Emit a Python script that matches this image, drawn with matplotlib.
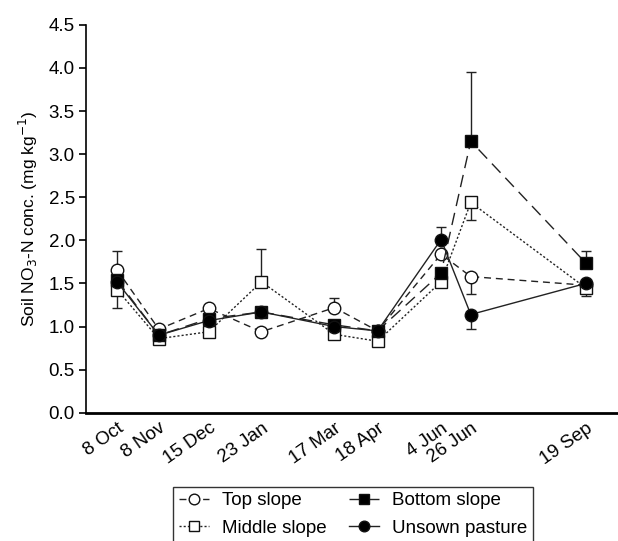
import numpy as np
from matplotlib import pyplot as plt

plt.rcParams['font.family'] = ['Liberation Sans', 'DejaVu Sans']

# sampling dates (x axis is proportional to time)
dates = ['2003-10-08', '2003-11-08', '2003-12-15', '2004-01-23', '2004-03-17',
         '2004-04-18', '2004-06-04', '2004-06-26', '2004-09-19']
date_labels = ['8 Oct', '8 Nov', '15 Dec', '23 Jan', '17 Mar', '18 Apr', '4 Jun', '26 Jun', '19 Sep']

top_slope = [1.66, 0.97, 1.21, 0.94, 1.22, 0.95, 1.84, 1.58, 1.48]
middle_slope = [1.43, 0.86, 0.94, 1.52, 0.91, 0.83, 1.52, 2.44, 1.45]
bottom_slope = [1.54, 0.90, 1.09, 1.17, 1.02, 0.95, 1.62, 3.15, 1.74]
unsown_pasture = [1.52, 0.90, 1.07, 1.17, 1.00, 0.95, 2.01, 1.14, 1.50]

# visible error bars (lower, upper)
top_err_lo = [0, 0, 0, 0, 0, 0, 0, 0.20, 0]
top_err_hi = [0.22, 0, 0, 0, 0.11, 0, 0, 0, 0]
middle_err_lo = [0.22, 0, 0, 0, 0, 0, 0, 0.20, 0]
middle_err_hi = [0, 0, 0, 0.38, 0, 0, 0, 0, 0]
bottom_err_lo = [0, 0, 0, 0, 0, 0, 0, 0, 0]
bottom_err_hi = [0, 0, 0, 0, 0, 0, 0, 0.80, 0.14]
unsown_err_lo = [0, 0, 0, 0, 0, 0, 0, 0.17, 0.15]
unsown_err_hi = [0, 0, 0, 0, 0, 0, 0.15, 0, 0]

d = np.array(dates, dtype='datetime64[D]')
x = (d - d[0]).astype(int)

fig = plt.figure(figsize=(6.18, 5.41), dpi=100)
ax = fig.add_axes([0.139, 0.237, 0.861, 0.717])

series = [
    ('Top slope', top_slope, top_err_lo, top_err_hi, 'o', 'white', (0, (5, 3.5))),
    ('Middle slope', middle_slope, middle_err_lo, middle_err_hi, 's', 'white', (0, (1.5, 1.5))),
    ('Bottom slope', bottom_slope, bottom_err_lo, bottom_err_hi, 's', 'black', (0, (9, 5))),
    ('Unsown pasture', unsown_pasture, unsown_err_lo, unsown_err_hi, 'o', 'black', '-'),
]

handles = []
for name, y, lo, hi, mk, fc, ls in series:
    y = np.array(y)
    lo = np.array(lo)
    hi = np.array(hi)
    idx = (lo > 0) | (hi > 0)
    ax.errorbar(x[idx], y[idx], yerr=[lo[idx], hi[idx]], fmt='none', ecolor='#222222',
                elinewidth=1, capsize=3.5, capthick=1, zorder=2)
    h, = ax.plot(x, y, color='#222222', linestyle=ls, linewidth=1, marker=mk,
                 markersize=9, markerfacecolor=fc, markeredgecolor='#111111',
                 markeredgewidth=1, label=name, zorder=3)
    handles.append(h)

ax.set_xlim(-23, x[-1] + 24)
ax.set_ylim(0, 4.5)
ax.set_yticks(np.arange(0, 4.51, 0.5))
ax.set_yticklabels(['%.1f' % v for v in np.arange(0, 4.51, 0.5)])
ax.set_xticks(x)
ax.set_xticklabels(date_labels, rotation=35, ha='right', rotation_mode='anchor')
ax.tick_params(axis='x', length=0, pad=5, labelsize=13.5)
ax.tick_params(axis='y', length=5, width=1.2, labelsize=13.5, direction='out', pad=3)
ax.spines['top'].set_visible(False)
ax.spines['right'].set_visible(False)
ax.spines['bottom'].set_linewidth(2)
ax.spines['left'].set_linewidth(1.2)
ax.set_ylabel('Soil NO$_3$-N conc. (mg kg$^{-1}$)', fontsize=12.5, labelpad=6)

leg = fig.legend(handles=handles, ncol=2, loc='upper left', bbox_to_anchor=(0.265, 0.118),
                 fontsize=13.5, frameon=True, fancybox=False, edgecolor='black',
                 handlelength=1.6, handletextpad=0.7, columnspacing=1.2,
                 borderpad=0.3, labelspacing=0.55, markerscale=0.85)
leg.get_frame().set_linewidth(1)

fig.savefig('out.png', dpi=100)
